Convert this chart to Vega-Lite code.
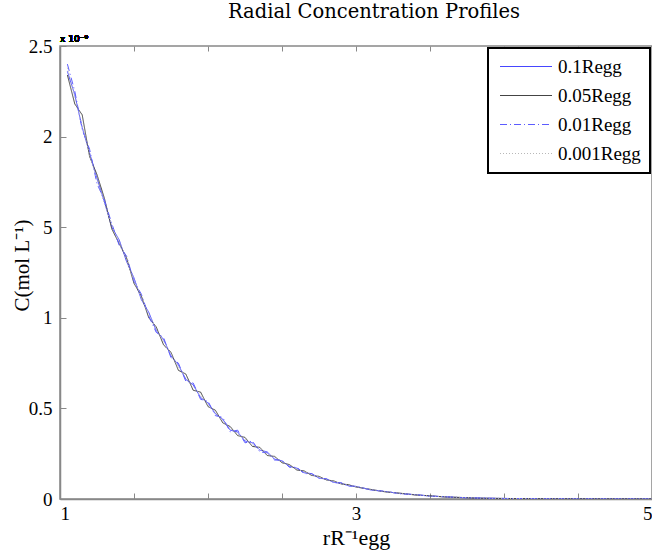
{
  "$schema": "https://vega.github.io/schema/vega-lite/v6.json",
  "width": 592,
  "height": 453,
  "autosize": {"type": "none"},
  "padding": {"left": 60, "top": 46, "right": 0, "bottom": 53},
  "background": "white",
  "title": {"text": "Radial Concentration Profiles", "font": "DejaVu Serif", "fontSize": 19.5, "fontWeight": "normal", "color": "black", "offset": 13, "anchor": "middle", "dx": 18},
  "config": {
    "view": {"stroke": "#888888", "strokeWidth": 1.5},
    "axis": {"domainColor": "#888888", "domainWidth": 1.5, "tickColor": "#888888", "tickSize": -6, "grid": false, "labelFont": "Liberation Serif", "labelFontSize": 19, "labelColor": "black", "titleFont": "Liberation Serif", "titleFontSize": 21, "titleFontWeight": "normal", "titleColor": "black"},
    "legend": {"strokeColor": "black", "strokeWidth": 2, "fillColor": "white"}
  },
  "data": {"values": [
    {"r":1.05,"a":2.36,"b":2.34,"c":2.40,"d":2.38},
    {"r":1.10,"a":2.23,"b":2.18,"c":2.25,"d":2.22},
    {"r":1.15,"a":2.05,"b":2.12,"c":2.04,"d":2.06},
    {"r":1.20,"a":1.91,"b":1.89,"c":1.93,"d":1.90},
    {"r":1.25,"a":1.77,"b":1.79,"c":1.74,"d":1.76},
    {"r":1.30,"a":1.64,"b":1.66,"c":1.65,"d":1.63},
    {"r":1.35,"a":1.50,"b":1.49,"c":1.52,"d":1.51},
    {"r":1.40,"a":1.43,"b":1.41,"c":1.40,"d":1.42},
    {"r":1.45,"a":1.31,"b":1.33,"c":1.34,"d":1.32},
    {"r":1.50,"a":1.22,"b":1.19,"c":1.20,"d":1.21},
    {"r":1.55,"a":1.10,"b":1.12,"c":1.13,"d":1.11},
    {"r":1.60,"a":1.03,"b":1.00,"c":1.01,"d":1.02},
    {"r":1.65,"a":0.93,"b":0.95,"c":0.92,"d":0.94},
    {"r":1.70,"a":0.88,"b":0.85,"c":0.89,"d":0.87},
    {"r":1.75,"a":0.79,"b":0.81,"c":0.78,"d":0.80},
    {"r":1.80,"a":0.74,"b":0.71,"c":0.75,"d":0.73},
    {"r":1.85,"a":0.66,"b":0.69,"c":0.65,"d":0.67},
    {"r":1.90,"a":0.63,"b":0.60,"c":0.64,"d":0.62},
    {"r":1.95,"a":0.56,"b":0.59,"c":0.55,"d":0.57},
    {"r":2.00,"a":0.53,"b":0.51,"c":0.54,"d":0.52},
    {"r":2.05,"a":0.47,"b":0.49,"c":0.46,"d":0.48},
    {"r":2.10,"a":0.44,"b":0.42,"c":0.45,"d":0.43},
    {"r":2.15,"a":0.38,"b":0.40,"c":0.37,"d":0.39},
    {"r":2.20,"a":0.37,"b":0.35,"c":0.38,"d":0.36},
    {"r":2.25,"a":0.32,"b":0.34,"c":0.31,"d":0.33},
    {"r":2.30,"a":0.31,"b":0.29,"c":0.32,"d":0.30},
    {"r":2.35,"a":0.27,"b":0.285,"c":0.26,"d":0.28},
    {"r":2.40,"a":0.26,"b":0.24,"c":0.255,"d":0.25},
    {"r":2.45,"a":0.22,"b":0.235,"c":0.215,"d":0.23},
    {"r":2.50,"a":0.21,"b":0.20,"c":0.215,"d":0.205},
    {"r":2.55,"a":0.18,"b":0.19,"c":0.175,"d":0.185},
    {"r":2.60,"a":0.17,"b":0.16,"c":0.175,"d":0.165},
    {"r":2.65,"a":0.145,"b":0.155,"c":0.14,"d":0.15},
    {"r":2.70,"a":0.14,"b":0.13,"c":0.14,"d":0.135},
    {"r":2.75,"a":0.115,"b":0.125,"c":0.115,"d":0.12},
    {"r":2.80,"a":0.11,"b":0.105,"c":0.112,"d":0.108},
    {"r":2.85,"a":0.092,"b":0.10,"c":0.09,"d":0.096},
    {"r":2.90,"a":0.087,"b":0.083,"c":0.09,"d":0.085},
    {"r":2.95,"a":0.073,"b":0.079,"c":0.072,"d":0.076},
    {"r":3.00,"a":0.069,"b":0.066,"c":0.07,"d":0.068},
    {"r":3.10,"a":0.05,"b":0.053,"c":0.051,"d":0.052},
    {"r":3.20,"a":0.041,"b":0.039,"c":0.042,"d":0.040},
    {"r":3.30,"a":0.03,"b":0.032,"c":0.029,"d":0.031},
    {"r":3.40,"a":0.024,"b":0.022,"c":0.024,"d":0.023},
    {"r":3.50,"a":0.016,"b":0.018,"c":0.016,"d":0.017},
    {"r":3.60,"a":0.012,"b":0.011,"c":0.013,"d":0.012},
    {"r":3.70,"a":0.008,"b":0.009,"c":0.008,"d":0.009},
    {"r":3.80,"a":0.006,"b":0.005,"c":0.006,"d":0.006},
    {"r":3.90,"a":0.004,"b":0.004,"c":0.004,"d":0.004},
    {"r":4.00,"a":0.003,"b":0.003,"c":0.003,"d":0.003},
    {"r":4.25,"a":0.0015,"b":0.0014,"c":0.0016,"d":0.0015},
    {"r":4.50,"a":0.0008,"b":0.0008,"c":0.0008,"d":0.0008},
    {"r":4.75,"a":0.0004,"b":0.0004,"c":0.0004,"d":0.0004},
    {"r":5.00,"a":0.0002,"b":0.0002,"c":0.0002,"d":0.0002}
  ]},
  "layer": [
    {
      "transform": [{"fold": ["a", "b", "c", "d"], "as": ["series", "conc"]}],
      "mark": {"type": "line", "strokeWidth": 1, "clip": true},
      "encoding": {
        "x": {"field": "r", "type": "quantitative", "scale": {"domain": [1, 5], "nice": false},
              "axis": {"values": [1, 1.5, 2, 2.5, 3, 3.5, 4, 4.5, 5], "labelExpr": "datum.value == 1 || datum.value == 3 || datum.value == 5 ? format(datum.value, 'd') : ''", "labelPadding": 11, "title": "rR⁻¹egg", "titleFontSize": 22, "titlePadding": 4}},
        "y": {"field": "conc", "type": "quantitative", "scale": {"domain": [0, 2.5], "nice": false},
              "axis": {"values": [0, 0.5, 1, 1.5, 2, 2.5], "format": "~g", "labelExpr": "datum.value == 1.5 ? '5' : datum.label", "labelPadding": 14, "title": "C(mol L⁻¹)", "titleX": -28, "titleY": 219, "titleAlign": "center", "titleBaseline": "bottom", "titleAngle": 270}},
        "color": {"field": "series", "type": "nominal",
                  "scale": {"domain": ["a", "b", "c", "d"], "range": ["#4646ff", "#444444", "#5c5cff", "#b8b8b8"]},
                  "legend": {"orient": "top-right", "offset": 2, "title": null, "symbolType": "M-1,0H7", "symbolSize": 169, "symbolStrokeWidth": 1, "labelFont": "Liberation Serif", "labelFontSize": 19, "labelColor": "black", "rowPadding": 9, "padding": 9, "labelOffset": 42,
                             "labelExpr": "datum.value == 'a' ? '0.1Regg' : datum.value == 'b' ? '0.05Regg' : datum.value == 'c' ? '0.01Regg' : '0.001Regg'"}},
        "strokeDash": {"field": "series", "type": "nominal",
                       "scale": {"domain": ["a", "b", "c", "d"], "range": [[1, 0], [1, 0], [7, 3, 1, 3], [1, 2]]},
                       "legend": null}
      }
    },
    {
      "mark": {"type": "text", "align": "left", "baseline": "bottom", "dy": -2, "font": "DejaVu Sans", "fontSize": 9, "color": "black"},
      "encoding": {
        "x": {"datum": 1, "type": "quantitative", "axis": {"orient": "top", "values": [1, 1.5, 2, 2.5, 3, 3.5, 4, 4.5, 5], "labels": false, "title": null, "domain": false, "tickSize": -5}},
        "y": {"datum": 2.5, "type": "quantitative"},
        "text": {"value": "x 10⁻⁹"}
      }
    }
  ],
  "resolve": {"axis": {"x": "independent"}}
}
